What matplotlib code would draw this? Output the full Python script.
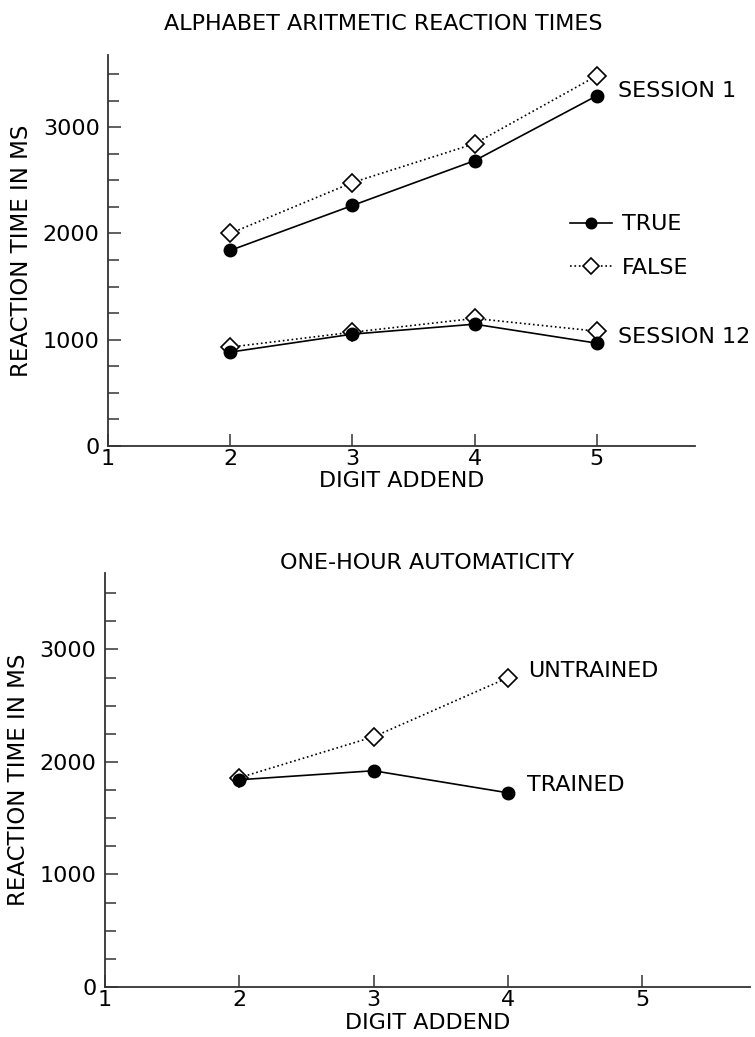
import matplotlib.pyplot as plt
from matplotlib.ticker import MultipleLocator

# =========================
# Data
# =========================

addend = [2, 3, 4, 5]
s1_true = [1840, 2263, 2685, 3296]
s1_false = [2000, 2479, 2845, 3484]
s12_true = [883, 1052, 1146, 967]
s12_false = [930, 1070, 1200, 1080]

addend_hour = [2, 3, 4]
trained = [1842, 1922, 1726]
untrained = [1860, 2224, 2749]

plt.rcParams["font.family"] = "DejaVu Sans"
FS = 16

fig = plt.figure(figsize=(7.55, 10.37), dpi=100)
ax1 = fig.add_axes([0.143, 0.570, 0.777, 0.377])
ax2 = fig.add_axes([0.139, 0.0482, 0.854, 0.3993])

solid = dict(color="black", lw=1.2, marker="o", ms=9, mfc="black", mec="black")
dotted = dict(color="black", lw=1.2, ls=":", marker="D", ms=9, mfc="white",
              mec="black", mew=1.2)


def style(ax, title, tpad, tx):
    for s in ["top", "right"]:
        ax.spines[s].set_visible(False)
    for s in ["left", "bottom"]:
        ax.spines[s].set_color("#333333")
        ax.spines[s].set_linewidth(1.3)
    ax.set_xlim(1, 5.8)
    ax.set_ylim(0, 3680)
    ax.set_xticks([1, 2, 3, 4, 5])
    ax.set_yticks([0, 1000, 2000, 3000])
    ax.yaxis.set_minor_locator(MultipleLocator(250))
    ax.tick_params(axis="both", direction="in", length=9, width=1.2,
                   color="#444444", labelsize=FS, pad=6)
    ax.tick_params(axis="x", pad=2)
    ax.tick_params(axis="y", which="minor", direction="in", length=8,
                   width=1.2, color="#444444")
    ax.set_xlabel("DIGIT ADDEND", fontsize=FS, labelpad=2)
    ax.set_ylabel("REACTION TIME IN MS", fontsize=16.5, labelpad=7)
    ax.set_title(title, fontsize=FS, pad=tpad, x=tx)


# =========================
# Top panel
# =========================

ax1.plot(addend, s1_false, **dotted)
ax1.plot(addend, s1_true, **solid)
l_false, = ax1.plot(addend, s12_false, label="FALSE", **dotted)
l_true, = ax1.plot(addend, s12_true, label="TRUE", **solid)
style(ax1, "ALPHABET ARITMETIC REACTION TIMES", 18, 0.47)

ax1.text(5.175, 3343, "SESSION 1", fontsize=FS, va="center")
ax1.text(5.17, (s12_true[-1] + s12_false[-1]) / 2, "SESSION 12",
         fontsize=FS, va="center")

ax1.legend(handles=[l_true, l_false], loc="upper left",
           bbox_to_anchor=(0.787, 0.592), frameon=False, fontsize=FS,
           handlelength=1.9, handletextpad=0.45, labelspacing=1.07,
           borderpad=0, borderaxespad=0, markerscale=0.85)

# =========================
# Bottom panel
# =========================

ax2.plot(addend_hour, untrained, **dotted)
ax2.plot(addend_hour, trained, **solid)
style(ax2, "ONE-HOUR AUTOMATICITY", 0, 0.5)

ax2.text(4.15, 2811, "UNTRAINED", fontsize=FS, va="center")
ax2.text(4.145, 1797, "TRAINED", fontsize=FS, va="center")

fig.savefig("out.png", dpi=100)
